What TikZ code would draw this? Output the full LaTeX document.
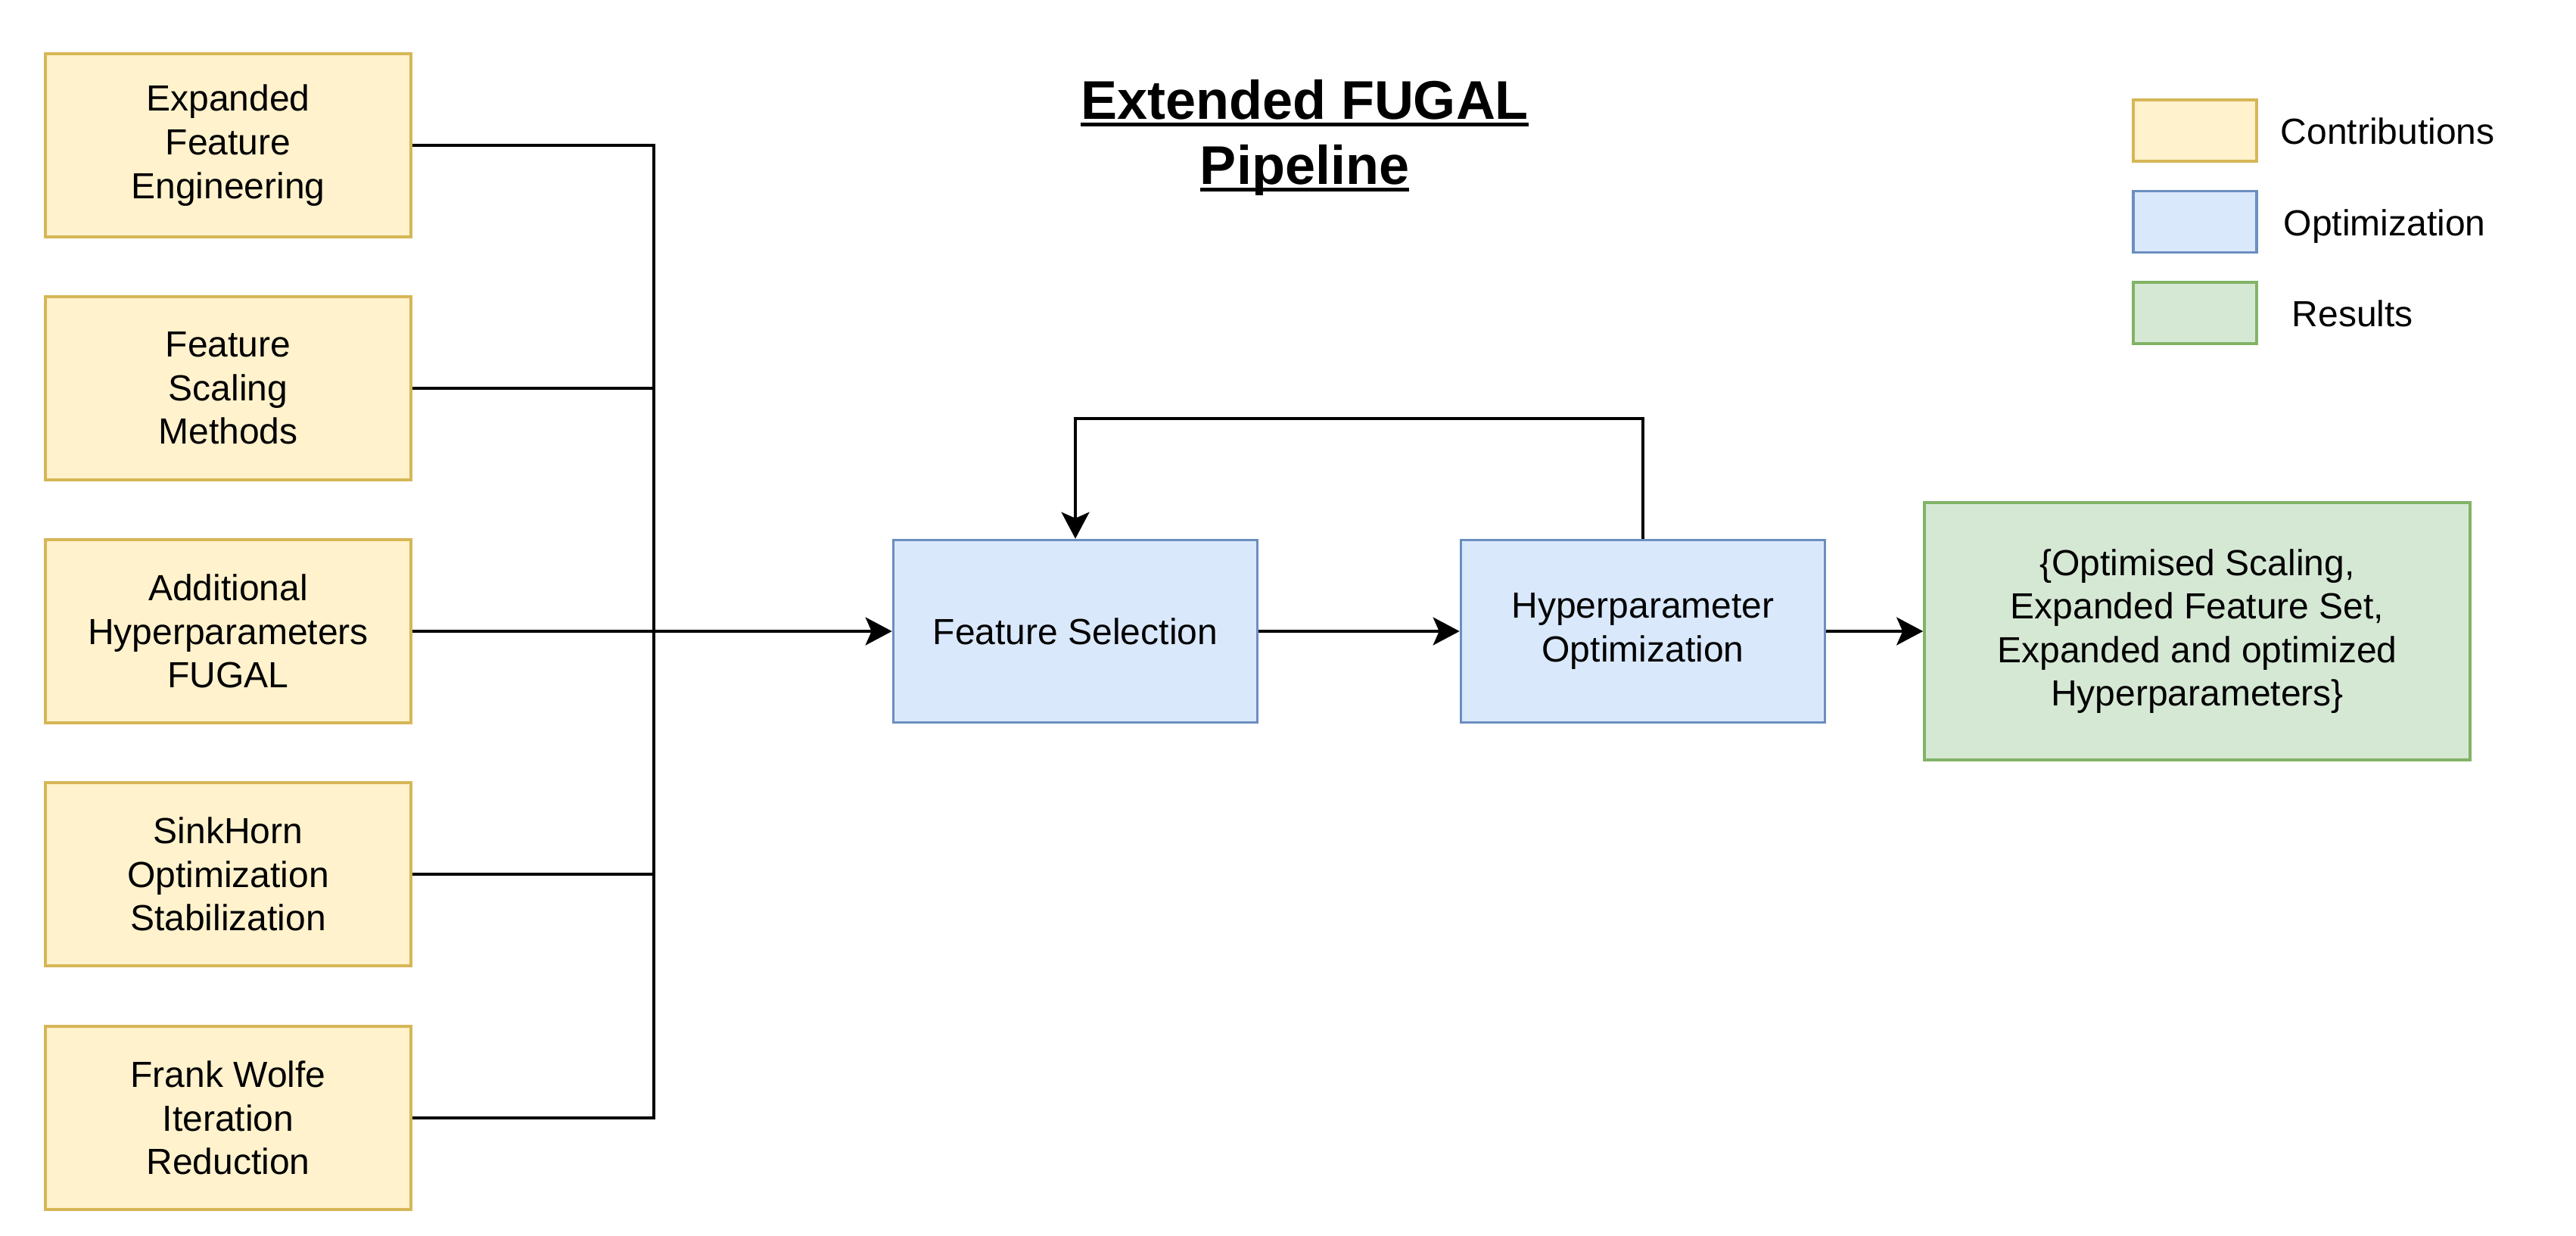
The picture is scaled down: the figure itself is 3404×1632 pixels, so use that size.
\documentclass[tikz,border=0pt]{standalone}
\usepackage{fontspec}
\setmainfont{Liberation Sans}
\usetikzlibrary{arrows.meta,calc}
\definecolor{yfill}{HTML}{FFF2CC}
\definecolor{ydraw}{HTML}{D6B656}
\definecolor{bfill}{HTML}{DAE8FC}
\definecolor{bdraw}{HTML}{6C8EBF}
\definecolor{gfill}{HTML}{D5E8D4}
\definecolor{gdraw}{HTML}{82B366}
\newcommand{\myul}[1]{\setbox0\hbox{#1}\rlap{\rule[-2.3pt]{\wd0}{1.2pt}}\box0}
\begin{document}
\begin{tikzpicture}[x=0.25pt,y=-0.25pt,
  box/.style={draw, line width=0.9pt, align=center, inner sep=0pt,
    font=\fontsize{12}{14.4}\selectfont},
  contrib/.style={box, fill=yfill, draw=ydraw, minimum width=120.75pt, minimum height=60.5pt},
  optim/.style={box, fill=bfill, draw=bdraw, minimum width=120.25pt, minimum height=60.25pt},
  result/.style={box, fill=gfill, draw=gdraw, minimum width=180.25pt, minimum height=85pt},
  legbox/.style={draw, line width=0.9pt, minimum width=40.75pt, minimum height=20.25pt, inner sep=0pt},
  legtext/.style={anchor=base west, inner sep=0pt, font=\fontsize{12}{14.4}\selectfont},
  conn/.style={line width=1.1pt},
  arr/.style={conn, -{Stealth[length=8.75pt, width=9.2pt, inset=2pt]}}
]
\useasboundingbox (0,0) rectangle (3404,1632);

% title
\node[align=center, font=\fontsize{18}{21.6}\selectfont\bfseries] (title) at (1724,182)
  {\myul{Extended FUGAL}\\\myul{Pipeline}};

% contribution boxes
\node[contrib] (b1) at (301.5,192) {Expanded\\Feature\\Engineering};
\node[contrib] (b2) at (301.5,513) {Feature\\Scaling\\Methods};
\node[contrib] (b3) at (301.5,834) {Additional\\Hyperparameters\\FUGAL};
\node[contrib] (b4) at (301.5,1155) {SinkHorn\\Optimization\\Stabilization};
\node[contrib] (b5) at (301.5,1477) {Frank Wolfe\\Iteration\\Reduction};

% pipeline boxes
\node[optim] (fs) at (1421,834) {Feature Selection};
\node[optim] (ho) at (2171,834) {Hyperparameter\\Optimization};
\node[result] (res) at (2903.5,834) {\{Optimised Scaling,\\Expanded Feature Set,\\Expanded and optimized\\Hyperparameters\}};

% legend
\node[legbox, fill=yfill, draw=ydraw] (l1) at (2900.5,172.5) {};
\node[legbox, fill=bfill, draw=bdraw] (l2) at (2900.5,293) {};
\node[legbox, fill=gfill, draw=gdraw] (l3) at (2900.5,413.5) {};
\node[legtext] (t1) at (3013,190.5) {Contributions};
\node[legtext] (t2) at (3017,311) {Optimization};
\node[legtext] (t3) at (3028,431.5) {Results};

% bus
\coordinate (bt) at (864,192);
\coordinate (bb) at (864,1477);
\draw[conn] (b1.east) -- (bt) -- (bb) -- (b5.east);
\draw[conn] (b2.east) -- (b2.east -| bt);
\draw[conn] (b4.east) -- (b4.east -| bt);
\draw[arr] (b3.east) -- (fs.west);

% pipeline
\draw[arr] (fs.east) -- (ho.west);
\draw[arr] (ho.east) -- (res.west);
\coordinate (lp) at (0,553);
\draw[arr] (ho.north) -- (ho.north |- lp) -| (fs.north);
\end{tikzpicture}
\end{document}
